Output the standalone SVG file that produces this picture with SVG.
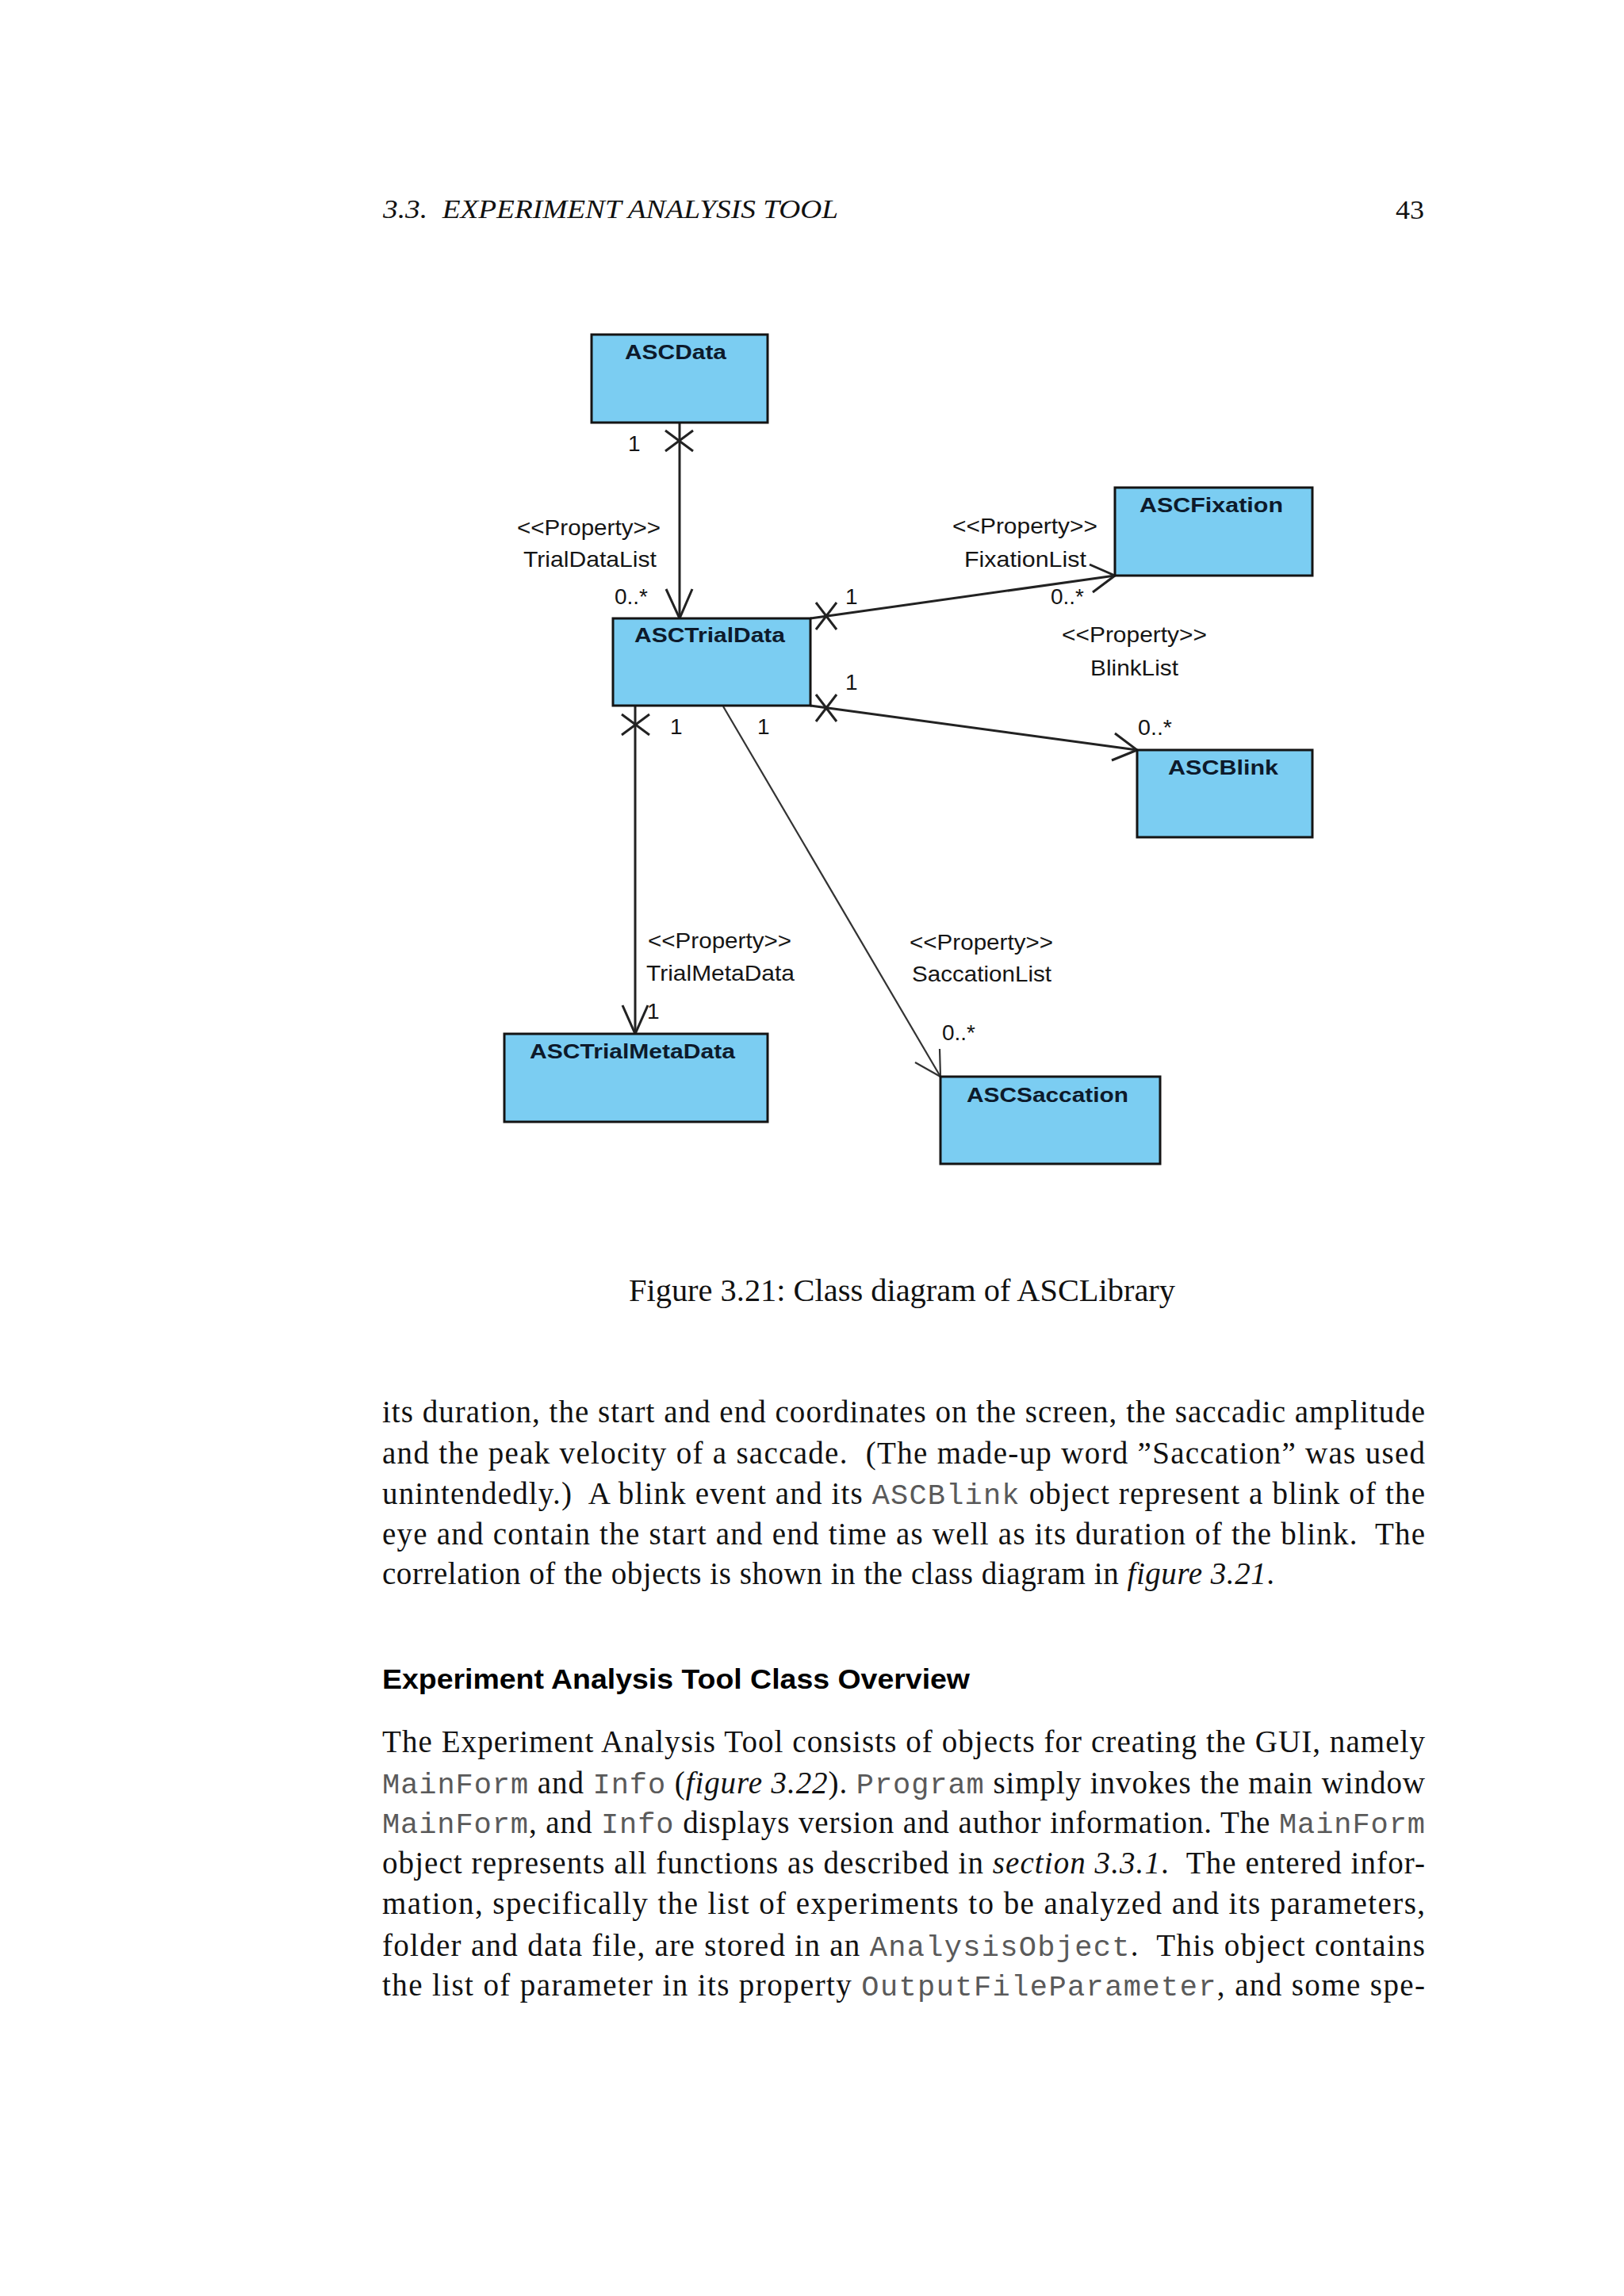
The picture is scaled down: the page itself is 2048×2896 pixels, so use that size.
<svg xmlns="http://www.w3.org/2000/svg" width="2048" height="2896" viewBox="0 0 2048 2896">
<style>
.box{fill:#7BCDF2;stroke:#141414;stroke-width:3}
.title{font-family:"Liberation Sans",Arial,sans-serif;font-weight:bold;font-size:26px;fill:#0d1a2b}
.lbl{font-family:"Liberation Sans",Arial,sans-serif;font-size:28px;fill:#151515}
.ln{stroke:#222;stroke-width:3;fill:none}
.thin{stroke:#333;stroke-width:2.2;fill:none}
.hd{font-family:"Liberation Serif","Times New Roman",serif;font-size:33px;fill:#111}
.body{font-family:"Liberation Serif","Times New Roman",serif;font-size:39px;fill:#111}
.mono{font-family:"Liberation Mono","Courier New",monospace;font-size:37px;fill:#5a5a5a}
.it{font-style:italic}
.sec{font-family:"Liberation Sans",Arial,sans-serif;font-weight:bold;font-size:35px;fill:#000}
</style>
<rect x="0" y="0" width="2048" height="2896" fill="#ffffff"/>

<!-- page header -->
<text class="hd it" x="483" y="275" textLength="574" lengthAdjust="spacingAndGlyphs">3.3.&#160; EXPERIMENT ANALYSIS TOOL</text>
<text class="hd" x="1760" y="276" textLength="36" lengthAdjust="spacingAndGlyphs">43</text>

<!-- connectors -->
<g id="connectors">
  <!-- ASCData -> ASCTrialData -->
  <line class="ln" x1="857" y1="533" x2="857" y2="780"/>
  <polyline class="ln" points="840,743 857,780 873,743"/>
  <line class="ln" x1="839" y1="543" x2="874" y2="569"/>
  <line class="ln" x1="874" y1="543" x2="839" y2="569"/>
  <!-- ASCTrialData -> ASCFixation -->
  <line class="ln" x1="1022" y1="780" x2="1406" y2="726"/>
  <polyline class="ln" points="1374,712 1406,726 1378,747"/>
  <line class="ln" x1="1029" y1="760" x2="1055" y2="794"/>
  <line class="ln" x1="1055" y1="760" x2="1029" y2="794"/>
  <!-- ASCTrialData -> ASCBlink -->
  <line class="ln" x1="1022" y1="890" x2="1434" y2="946"/>
  <polyline class="ln" points="1406,925 1434,946 1402,959"/>
  <line class="ln" x1="1029" y1="876" x2="1055" y2="910"/>
  <line class="ln" x1="1055" y1="876" x2="1029" y2="910"/>
  <!-- ASCTrialData -> ASCTrialMetaData -->
  <line class="ln" x1="801" y1="890" x2="801" y2="1304"/>
  <polyline class="ln" points="785,1268 801,1304 817,1268"/>
  <line class="ln" x1="784" y1="901" x2="819" y2="927"/>
  <line class="ln" x1="819" y1="901" x2="784" y2="927"/>
  <!-- ASCTrialData -> ASCSaccation -->
  <line class="thin" x1="912" y1="891" x2="1186" y2="1358"/>
  <polyline class="thin" points="1185,1323 1186,1358 1154,1340"/>
</g>

<!-- connector labels -->
<g id="labels">
  <text class="lbl" x="792" y="569">1</text>
  <text class="lbl" x="652" y="675" textLength="181" lengthAdjust="spacingAndGlyphs">&lt;&lt;Property&gt;&gt;</text>
  <text class="lbl" x="660" y="715" textLength="168" lengthAdjust="spacingAndGlyphs">TrialDataList</text>
  <text class="lbl" x="775" y="762" textLength="42" lengthAdjust="spacingAndGlyphs">0..*</text>

  <text class="lbl" x="1066" y="762">1</text>
  <text class="lbl" x="1201" y="673" textLength="183" lengthAdjust="spacingAndGlyphs">&lt;&lt;Property&gt;&gt;</text>
  <text class="lbl" x="1216" y="715" textLength="154" lengthAdjust="spacingAndGlyphs">FixationList</text>
  <text class="lbl" x="1325" y="762" textLength="42" lengthAdjust="spacingAndGlyphs">0..*</text>

  <text class="lbl" x="1066" y="870">1</text>
  <text class="lbl" x="1339" y="810" textLength="183" lengthAdjust="spacingAndGlyphs">&lt;&lt;Property&gt;&gt;</text>
  <text class="lbl" x="1375" y="852" textLength="111" lengthAdjust="spacingAndGlyphs">BlinkList</text>
  <text class="lbl" x="1435" y="927" textLength="43" lengthAdjust="spacingAndGlyphs">0..*</text>

  <text class="lbl" x="845" y="926">1</text>
  <text class="lbl" x="955" y="926">1</text>
  <text class="lbl" x="817" y="1196" textLength="181" lengthAdjust="spacingAndGlyphs">&lt;&lt;Property&gt;&gt;</text>
  <text class="lbl" x="815" y="1237" textLength="187" lengthAdjust="spacingAndGlyphs">TrialMetaData</text>
  <text class="lbl" x="816" y="1285">1</text>

  <text class="lbl" x="1147" y="1198" textLength="181" lengthAdjust="spacingAndGlyphs">&lt;&lt;Property&gt;&gt;</text>
  <text class="lbl" x="1150" y="1238" textLength="176" lengthAdjust="spacingAndGlyphs">SaccationList</text>
  <text class="lbl" x="1188" y="1312" textLength="42" lengthAdjust="spacingAndGlyphs">0..*</text>
</g>

<!-- nodes -->
<g id="ASCData">
  <rect class="box" x="746" y="422" width="222" height="111"/>
  <text class="title" x="788" y="453" textLength="128" lengthAdjust="spacingAndGlyphs">ASCData</text>
</g>
<g id="ASCTrialData">
  <rect class="box" x="773" y="780" width="249" height="110"/>
  <text class="title" x="800" y="810" textLength="190" lengthAdjust="spacingAndGlyphs">ASCTrialData</text>
</g>
<g id="ASCFixation">
  <rect class="box" x="1406" y="615" width="249" height="111"/>
  <text class="title" x="1437" y="646" textLength="181" lengthAdjust="spacingAndGlyphs">ASCFixation</text>
</g>
<g id="ASCBlink">
  <rect class="box" x="1434" y="946" width="221" height="110"/>
  <text class="title" x="1473" y="977" textLength="139" lengthAdjust="spacingAndGlyphs">ASCBlink</text>
</g>
<g id="ASCTrialMetaData">
  <rect class="box" x="636" y="1304" width="332" height="111"/>
  <text class="title" x="668" y="1335" textLength="259" lengthAdjust="spacingAndGlyphs">ASCTrialMetaData</text>
</g>
<g id="ASCSaccation">
  <rect class="box" x="1186" y="1358" width="277" height="110"/>
  <text class="title" x="1219" y="1390" textLength="204" lengthAdjust="spacingAndGlyphs">ASCSaccation</text>
</g>

<!-- caption -->
<text class="body" x="793" y="1641" textLength="689" lengthAdjust="spacingAndGlyphs">Figure 3.21: Class diagram of ASCLibrary</text>

<!-- paragraph 1 -->
<text class="body" x="482" y="1794" textLength="1315" lengthAdjust="spacing">its duration, the start and end coordinates on the screen, the saccadic amplitude</text>
<text class="body" x="482" y="1846" textLength="1315" lengthAdjust="spacing">and the peak velocity of a saccade.&#160; (The made-up word ”Saccation” was used</text>
<text class="body" x="482" y="1897" textLength="1315" lengthAdjust="spacing">unintendedly.)&#160; A blink event and its <tspan class="mono">ASCBlink</tspan> object represent a blink of the</text>
<text class="body" x="482" y="1948" textLength="1315" lengthAdjust="spacing">eye and contain the start and end time as well as its duration of the blink.&#160; The</text>
<text class="body" x="482" y="1998" textLength="1125" lengthAdjust="spacing">correlation of the objects is shown in the class diagram in <tspan class="it">figure 3.21</tspan>.</text>

<!-- section heading -->
<text class="sec" x="482" y="2130" textLength="741" lengthAdjust="spacingAndGlyphs">Experiment Analysis Tool Class Overview</text>

<!-- paragraph 2 -->
<text class="body" x="482" y="2210" textLength="1315" lengthAdjust="spacing">The Experiment Analysis Tool consists of objects for creating the GUI, namely</text>
<text class="body" x="482" y="2262" textLength="1315" lengthAdjust="spacing"><tspan class="mono">MainForm</tspan> and <tspan class="mono">Info</tspan> (<tspan class="it">figure 3.22</tspan>). <tspan class="mono">Program</tspan> simply invokes the main window</text>
<text class="body" x="482" y="2312" textLength="1315" lengthAdjust="spacing"><tspan class="mono">MainForm</tspan>, and <tspan class="mono">Info</tspan> displays version and author information. The <tspan class="mono">MainForm</tspan></text>
<text class="body" x="482" y="2363" textLength="1315" lengthAdjust="spacing">object represents all functions as described in <tspan class="it">section 3.3.1</tspan>.&#160; The entered infor-</text>
<text class="body" x="482" y="2414" textLength="1315" lengthAdjust="spacing">mation, specifically the list of experiments to be analyzed and its parameters,</text>
<text class="body" x="482" y="2467" textLength="1315" lengthAdjust="spacing">folder and data file, are stored in an <tspan class="mono">AnalysisObject</tspan>.&#160; This object contains</text>
<text class="body" x="482" y="2517" textLength="1315" lengthAdjust="spacing">the list of parameter in its property <tspan class="mono">OutputFileParameter</tspan>, and some spe-</text>
</svg>
